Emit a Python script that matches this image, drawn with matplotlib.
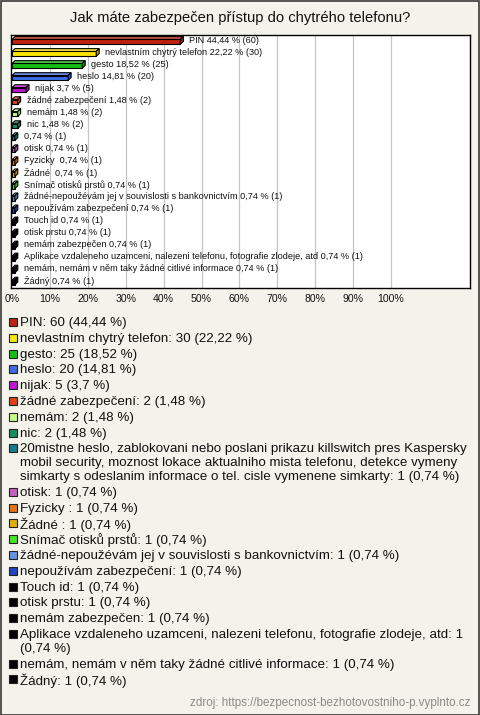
# -*- coding: utf-8 -*-
"""
Recreates the survey bar chart "Jak máte zabezpečen přístup do chytrého telefonu?"
with pseudo-3D horizontal bars and a colour legend below.
"""

import textwrap

import matplotlib
matplotlib.use("Agg")
import matplotlib.pyplot as plt
from matplotlib.patches import Polygon, Rectangle
from matplotlib.colors import to_rgb

plt.rcParams['font.family'] = ['Liberation Sans', 'DejaVu Sans']

# --- Data ---
TITLE = "Jak máte zabezpečen přístup do chytrého telefonu?"
SOURCE = "zdroj: https://bezpecnost-bezhotovostniho-p.vyplnto.cz"
RESPONDENTS = 135

answers = [
    "PIN",
    "nevlastním chytrý telefon",
    "gesto",
    "heslo",
    "nijak",
    "žádné zabezpečení",
    "nemám",
    "nic",
    "20mistne heslo, zablokovani nebo poslani prikazu killswitch pres Kaspersky "
    "mobil security, moznost lokace aktualniho mista telefonu, detekce vymeny "
    "simkarty s odeslanim informace o tel. cisle vymenene simkarty",
    "otisk",
    "Fyzicky ",
    "Žádné ",
    "Snímač otisků prstů",
    "žádné-nepoužévám jej v souvislosti s bankovnictvím",
    "nepoužívám zabezpečení",
    "Touch id",
    "otisk prstu",
    "nemám zabezpečen",
    "Aplikace vzdaleneho uzamceni, nalezeni telefonu, fotografie zlodeje, atd",
    "nemám, nemám v něm taky žádné citlivé informace",
    "Žádný",
]
counts = [60, 30, 25, 20, 5, 2, 2, 2, 1, 1, 1, 1, 1, 1, 1, 1, 1, 1, 1, 1, 1]
colors = [
    "#c0200c", "#f8e600", "#12c012", "#3c6cee", "#c414d2", "#e2420e",
    "#c4fc84", "#12905e", "#127e8e", "#c462c2", "#e4720e", "#e2b000",
    "#44e622", "#6494e2", "#2244c0", "#000000", "#000000", "#000000",
    "#000000", "#000000", "#000000",
]
tick_labels = ["0%", "10%", "20%", "30%", "40%", "50%",
               "60%", "70%", "80%", "90%", "100%"]

# --- Layout (pixels) ---
W, H = 480, 715
BG = "#f4f3eb"


def fmt_pct(p):
    return f"{p:.2f}".rstrip('0').rstrip('.').replace('.', ',')


def lighter(c, f):
    r, g, b = to_rgb(c)
    return (r + (1 - r) * f, g + (1 - g) * f, b + (1 - b) * f)


def darker(c, f):
    r, g, b = to_rgb(c)
    return (r * f, g * f, b * f)


def fy(py):
    return 1 - py / H


def fx(px):
    return px / W


pcts = [round(c / RESPONDENTS * 100, 2) for c in counts]

fig = plt.figure(figsize=(W / 100, H / 100), dpi=100)
fig.patch.set_facecolor(BG)

# figure border
fig.patches.append(Rectangle((0.5 / W, 0.5 / H), 1 - 1.5 / W, 1 - 1.5 / H,
                             transform=fig.transFigure, fill=False,
                             edgecolor="#3a3a3a", linewidth=1.2))

fig.text(0.5, fy(18), TITLE, ha='center', va='center', fontsize=10.6, color='#111111')

# --- Bar chart ---
ax = fig.add_axes([fx(11), fy(288), fx(470) - fx(11), fy(35) - fy(288)])
ax.set_facecolor('white')
px_per_pct = 3.79
xmin = -1 / px_per_pct
xmax = (470 - 12) / px_per_pct
ax.set_xlim(xmin, xmax)
n = len(answers)
ax.set_ylim(n - 1 + 0.58, -0.45)

for g in range(10, 101, 10):
    ax.axvline(g, color='#c4c4c4', linewidth=0.9, zorder=0)

row_px = 253 / (n + 0.03)
dx = 3.0 / px_per_pct
dy = 2.8 / row_px
h = 4.8 / row_px

for i, (name, p, col) in enumerate(zip(answers, pcts, colors)):
    yb = i + (h + dy) / 2
    yt = yb - h
    front = Rectangle((0, yt), p, h, facecolor=col, edgecolor='black',
                      linewidth=0.8, zorder=3)
    top = Polygon([(0, yt), (p, yt), (p + dx, yt - dy), (dx, yt - dy)],
                  closed=True, facecolor=lighter(col, 0.25), edgecolor='black',
                  linewidth=0.8, zorder=3)
    side = Polygon([(p, yb), (p, yt), (p + dx, yt - dy), (p + dx, yb - dy)],
                   closed=True, facecolor=darker(col, 0.8), edgecolor='black',
                   linewidth=0.8, zorder=3)
    for patch in (front, top, side):
        ax.add_patch(patch)
    shown = name if len(name) < 100 else ""
    label = f"{shown} {fmt_pct(p)} % ({counts[i]})".lstrip()
    ax.annotate(label, xy=(p + dx, i), xytext=(6, 0), textcoords='offset pixels',
                ha='left', va='center', fontsize=6.6, color='#111111', zorder=4)

ax.set_yticks([])
ax.set_xticks(range(0, 101, 10))
ax.set_xticklabels(tick_labels, fontsize=7.6, color='#111111')
ax.tick_params(axis='x', length=0, pad=4)
for s in ax.spines.values():
    s.set_color('black')
    s.set_linewidth(1.0)

# --- Legend ---
y = 323
line_h = 13.8
item_gap = 15.8
for name, c, p, col in zip(answers, counts, pcts, colors):
    text = f"{name}: {c} ({fmt_pct(p)} %)"
    lines = textwrap.wrap(text, width=76)
    fig.patches.append(Rectangle((fx(9), fy(y + 3)), 8 / W, 8 / H,
                                 transform=fig.transFigure, facecolor=col,
                                 edgecolor='#222222', linewidth=0.8))
    for k, ln in enumerate(lines):
        fig.text(fx(20), fy(y + k * line_h), ln, ha='left', va='center',
                 fontsize=9.6, color='#111111')
    y += item_gap + line_h * (len(lines) - 1)

fig.text(fx(470), fy(703), SOURCE, ha='right', va='center', fontsize=8.4,
         color='#8a8a8a')

fig.savefig("out.png", dpi=100, facecolor=BG)
